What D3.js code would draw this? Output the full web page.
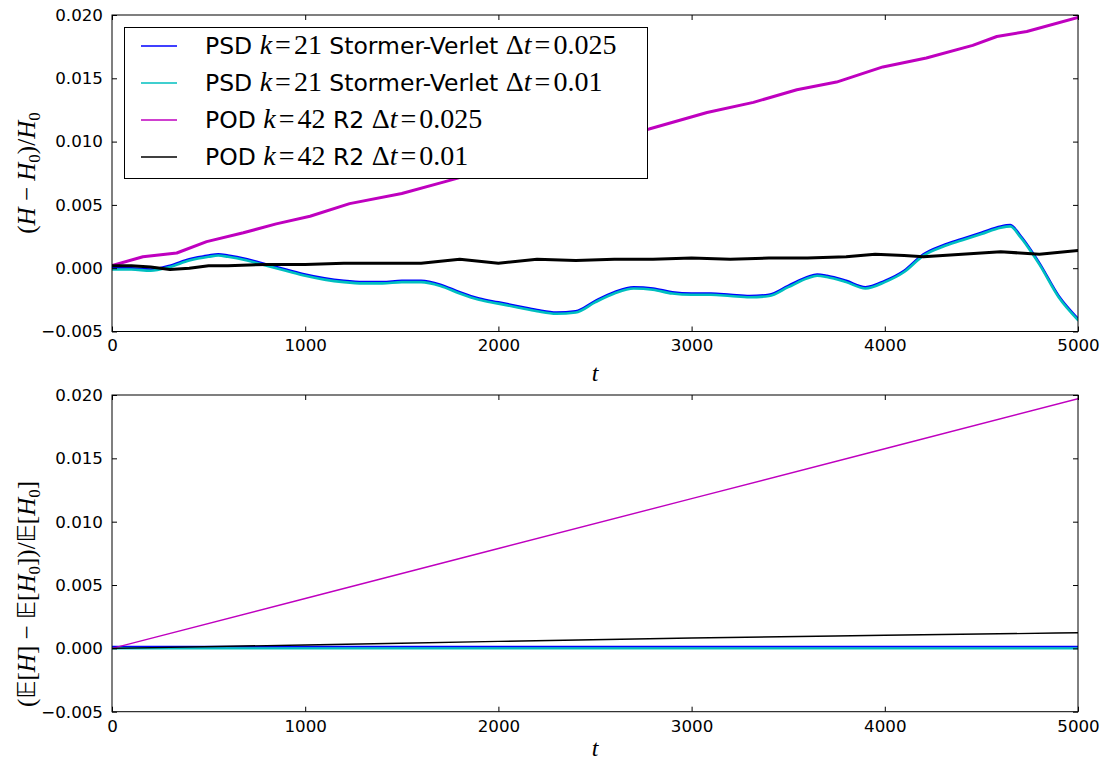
<!DOCTYPE html>
<html><head><meta charset="utf-8">
<script src="https://cdn.jsdelivr.net/npm/d3@7"></script>
<style>body{margin:0;background:#fff}svg{display:block}</style>
</head><body><svg id="c" width="1107" height="764"></svg>
<script>
// ---------- data ----------
const xTicks = [0, 1000, 2000, 3000, 4000, 5000];
const yTicks = [-0.005, 0.000, 0.005, 0.010, 0.015, 0.020];

// top panel: relative Hamiltonian error
const tPSD = [0,100,200,300,400,500,550,600,700,800,900,1000,1100,1200,1300,1400,1500,1600,1700,1800,1900,2000,2100,2200,2300,2400,2500,2600,2700,2800,2900,3000,3100,3200,3300,3400,3500,3600,3650,3700,3800,3900,4000,4100,4200,4300,4400,4500,4600,4650,4700,4800,4900,5000];
const psdSV025 = [0.0000,0.0000,-0.0001,0.0002,0.0007,0.0010,0.0011,0.0010,0.0007,0.0003,-0.0001,-0.0005,-0.0008,-0.0010,-0.0011,-0.0011,-0.0010,-0.0010,-0.0013,-0.0019,-0.0024,-0.0027,-0.0030,-0.0033,-0.0035,-0.0034,-0.0026,-0.0019,-0.0015,-0.0016,-0.0019,-0.0020,-0.0020,-0.0021,-0.0022,-0.0021,-0.0014,-0.0007,-0.0005,-0.0006,-0.0010,-0.0015,-0.0010,-0.0002,0.0011,0.0018,0.0023,0.0028,0.0033,0.0034,0.0026,0.0004,-0.0022,-0.0040];
const psdSV01 = [-0.0001,-0.0001,-0.0002,0.0001,0.0006,0.0009,0.0010,0.0009,0.0006,0.0002,-0.0002,-0.0006,-0.0009,-0.0011,-0.0012,-0.0012,-0.0011,-0.0011,-0.0014,-0.0020,-0.0025,-0.0028,-0.0031,-0.0034,-0.0036,-0.0035,-0.0027,-0.0020,-0.0016,-0.0017,-0.0020,-0.0021,-0.0021,-0.0022,-0.0023,-0.0022,-0.0015,-0.0008,-0.0006,-0.0007,-0.0011,-0.0016,-0.0011,-0.0003,0.0010,0.0017,0.0022,0.0027,0.0032,0.0033,0.0025,0.0003,-0.0023,-0.0041];
const tPOD025 = [0,160,335,490,680,850,1025,1230,1500,1715,2000,2400,2780,3080,3320,3545,3750,3990,4215,4455,4580,4735,5000];
const podR2_025 = [0.0002,0.0009,0.0012,0.0021,0.0028,0.0035,0.0041,0.0051,0.0059,0.0068,0.0080,0.0095,0.0110,0.0123,0.0131,0.0141,0.0147,0.0159,0.0166,0.0176,0.0183,0.0187,0.0198];
const tPOD01 = [0,100,200,300,400,500,600,800,1000,1200,1400,1600,1800,2000,2200,2400,2600,2800,3000,3200,3400,3600,3800,3950,4100,4200,4400,4600,4800,5000];
const podR2_01 = [0.0002,0.0002,0.0001,-0.0001,0.0000,0.0002,0.0002,0.0003,0.0003,0.0004,0.0004,0.0004,0.0007,0.0004,0.0007,0.0006,0.0007,0.0007,0.0008,0.0007,0.0008,0.0008,0.0009,0.0011,0.0010,0.0009,0.0011,0.0013,0.0011,0.0014];

// bottom panel: relative error of the mean Hamiltonian
const tMean = [0, 1000, 2000, 3000, 4000, 5000];
const meanPSD025 = [0.00012,0.00012,0.00012,0.00012,0.00012,0.00012];
const meanPSD01  = [0.0000,0.0000,0.0000,0.0000,0.0000,0.0000];
const meanPOD025 = [0.0000,0.00394,0.00788,0.01182,0.01576,0.0197];
const meanPOD01  = [0.0000,0.00027,0.00055,0.00082,0.00103,0.00123];

const seriesColors = ["#0000ff", "#00bfbf", "#bf00bf", "#000000"];
// legend labels: [text, kind] where kind = s (sans), i (math italic), r (math roman)
const legendLabels = [
  [["PSD ","s"],["k","i"],["=","r"],["21","r"],[" Stormer-Verlet ","s"],["Δ","r"],["t","i"],["=","r"],["0.025","r"]],
  [["PSD ","s"],["k","i"],["=","r"],["21","r"],[" Stormer-Verlet ","s"],["Δ","r"],["t","i"],["=","r"],["0.01","r"]],
  [["POD ","s"],["k","i"],["=","r"],["42","r"],[" R2 ","s"],["Δ","r"],["t","i"],["=","r"],["0.025","r"]],
  [["POD ","s"],["k","i"],["=","r"],["42","r"],[" R2 ","s"],["Δ","r"],["t","i"],["=","r"],["0.01","r"]]
];

// ---------- drawing ----------
const svg = d3.select("#c");
const SANS = "DejaVu Sans, sans-serif";
const SERIF = "Liberation Serif, DejaVu Serif, serif";
const L = 112, R = 1078;
const panels = [{top: 15, bottom: 331.5, xlab: 49}, {top: 395, bottom: 711.7, xlab: 44}];

const x = d3.scaleLinear().domain([0, 5000]).range([L, R]);

function drawPanel(p, series, widths) {
  const y = d3.scaleLinear().domain([-0.005, 0.020]).range([p.bottom, p.top]);
  const g = svg.append("g");
  const clipId = "clip" + Math.round(p.top);
  svg.append("clipPath").attr("id", clipId).append("rect")
    .attr("x", L).attr("y", p.top).attr("width", R - L).attr("height", p.bottom - p.top);
  const lg = g.append("g").attr("clip-path", `url(#${clipId})`);
  series.forEach((s, i) => {
    const line = d3.line().x((d, j) => x(s.t[j])).y(d => y(d)).curve(s.curve || d3.curveLinear);
    lg.append("path").attr("d", line(s.v)).attr("fill", "none")
      .attr("stroke", seriesColors[i]).attr("stroke-width", widths[i])
      .attr("stroke-linejoin", "round").attr("stroke-linecap", "round");
  });
  const fmt = v => d3.format(".3f")(v).replace("-", "\u2212");
  const ax = [
    g.append("g").attr("transform", `translate(0,${p.bottom})`).call(d3.axisBottom(x).tickValues(xTicks).tickSize(-5).tickPadding(8).tickFormat(d3.format("d"))),
    g.append("g").attr("transform", `translate(0,${p.top})`).call(d3.axisTop(x).tickValues(xTicks).tickSize(-5).tickFormat("")),
    g.append("g").attr("transform", `translate(${L},0)`).call(d3.axisLeft(y).tickValues(yTicks).tickSize(-5).tickPadding(9).tickFormat(fmt)),
    g.append("g").attr("transform", `translate(${R},0)`).call(d3.axisRight(y).tickValues(yTicks).tickSize(-5).tickFormat(""))
  ];
  ax.forEach(a => {
    a.select(".domain").remove();
    a.selectAll("line").attr("stroke", "#000");
    a.selectAll("text").attr("font-family", SANS).attr("font-size", 16.7).attr("fill", "#000");
  });
  g.append("rect").attr("x", L).attr("y", p.top).attr("width", R - L).attr("height", p.bottom - p.top)
    .attr("fill", "none").attr("stroke", "#000").attr("stroke-width", 1);
  g.append("text").attr("x", (L + R) / 2).attr("y", p.bottom + p.xlab).attr("text-anchor", "middle")
    .attr("font-family", SERIF).attr("font-style", "italic").attr("font-size", 24).text("t");
  return {g, y};
}

const topPanel = drawPanel(panels[0], [
  {t: tPSD, v: psdSV025, curve: d3.curveMonotoneX},
  {t: tPSD, v: psdSV01, curve: d3.curveMonotoneX},
  {t: tPOD025, v: podR2_025},
  {t: tPOD01, v: podR2_01}
], [2.6, 2.6, 3, 3]);

const botPanel = drawPanel(panels[1], [
  {t: tMean, v: meanPSD025},
  {t: tMean, v: meanPSD01},
  {t: tMean, v: meanPOD025},
  {t: tMean, v: meanPOD01, curve: d3.curveMonotoneX}
], [2, 2.2, 1.4, 1.4]);

function ylabel(cx, cy, parts) {
  const t = svg.append("text").attr("transform", `translate(${cx},${cy}) rotate(-90)`)
    .attr("text-anchor", "middle").attr("font-family", SERIF).attr("font-size", 25);
  parts.forEach(([s, k]) => {
    const ts = t.append("tspan").text(s);
    if (k === "i") ts.attr("font-style", "italic");
    if (k === "sub") ts.attr("font-size", 17).attr("dy", 5);
    if (k === "up") ts.attr("dy", -5);
    if (k === "bb") ts.attr("font-family", "DejaVu Sans");
  });
}
ylabel(35, 173, [["(", "r"], ["H", "i"], [" \u2212 ", "r"], ["H", "i"], ["0", "sub"], [")/", "up"], ["H", "i"], ["0", "sub"]]);
ylabel(35, 594, [["(", "r"], ["\u{1D53C}", "bb"], ["[", "r"], ["H", "i"], ["] \u2212 ", "r"], ["\u{1D53C}", "bb"], ["[", "r"], ["H", "i"], ["0", "sub"], ["])/", "up"], ["\u{1D53C}", "bb"], ["[", "r"], ["H", "i"], ["0", "sub"], ["]", "up"]]);

const lgd = svg.append("g");
lgd.append("rect").attr("x", 124.5).attr("y", 27.5).attr("width", 523).attr("height", 151)
  .attr("fill", "#fff").attr("stroke", "#000").attr("stroke-width", 1);
legendLabels.forEach((lab, i) => {
  const yy = 46 + i * 37;
  lgd.append("line").attr("x1", 141).attr("x2", 177).attr("y1", yy).attr("y2", yy)
    .attr("stroke", seriesColors[i]).attr("stroke-width", 1.5);
  const t = lgd.append("text").attr("x", 205).attr("y", yy + 8).attr("font-size", 23.5);
  lab.forEach(([s, k], j) => {
    const ts = t.append("tspan").text(s);
    if (k === "s") ts.attr("font-family", SANS);
    else ts.attr("font-family", SERIF).attr("font-size", 28);
    if (k === "i") ts.attr("font-style", "italic");
    if (s === "=") ts.attr("dx", 3);
    if (j > 0 && lab[j - 1][0] === "=") ts.attr("dx", 3);
  });
});
</script></body></html>
